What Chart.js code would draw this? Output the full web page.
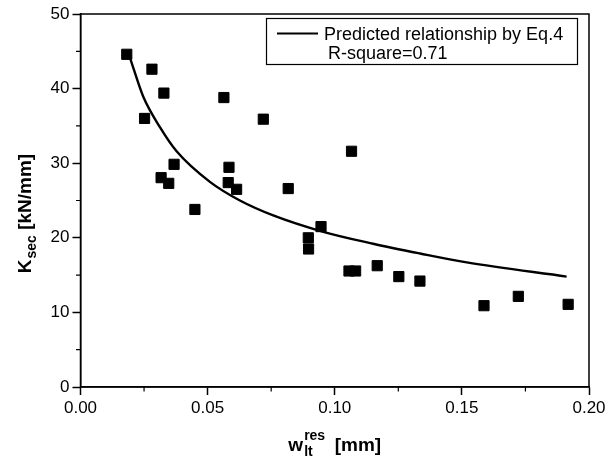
<!DOCTYPE html>
<html>
<head>
<meta charset="utf-8">
<script src="https://cdn.jsdelivr.net/npm/chart.js@4.4.1/dist/chart.umd.min.js"></script>
<style>
    html, body { margin: 0; padding: 0; background: #fff; }
    #wrap { width: 609px; height: 465px; }
</style>
</head>
<body>
<div id="wrap"><canvas id="myChart" width="609" height="465"></canvas></div>
<script>
// measured points (w_lt^res in mm, K_sec in kN/mm)
var measX = [0.0182, 0.0281, 0.0328, 0.0252, 0.0564, 0.0719, 0.1066, 0.0368, 0.0584, 0.0317, 0.0347, 0.0581, 0.0614,
    0.0817, 0.0450, 0.0946, 0.0896, 0.0897, 0.1056, 0.1082, 0.1167, 0.1252, 0.1335, 0.1587, 0.1722, 0.1918];
var measY = [44.6, 42.6, 39.4, 36.0, 38.8, 35.9, 31.6, 29.85, 29.45, 28.06, 27.3, 27.4, 26.5,
    26.6, 23.8, 21.5, 20.0, 18.5, 15.55, 15.55, 16.26, 14.8, 14.2, 10.9, 12.15, 11.08];

// predicted curve (Eq.4)
var curveX = [0.0195, 0.0247, 0.0313, 0.0378, 0.0509, 0.0627, 0.0758, 0.0955, 0.1151, 0.1335, 0.1519, 0.1912];
var curveY = [44.1, 38.9, 34.8, 31.6, 27.5, 25.0, 23.0, 20.8, 19.2, 17.9, 16.7, 14.8];

var xTicks = [0, 0.05, 0.10, 0.15, 0.20];
var yTicks = [0, 10, 20, 30, 40, 50];

var legendLines = ["Predicted relationship by Eq.4", "R-square=0.71"];

var FONT = "'Liberation Sans', Arial, sans-serif";

var toPoints = (xs, ys) => xs.map((x, i) => ({ x: x, y: ys[i] }));

// draws box, minor ticks, axis titles and legend
var extrasPlugin = {
    id: "extras",
    afterDraw: function(chart) {
        var ctx = chart.ctx;
        var a = chart.chartArea;
        var xs = chart.scales.x, ys = chart.scales.y;
        ctx.save();
        ctx.strokeStyle = "#000";
        ctx.lineWidth = 1.5;
        ctx.strokeRect(a.left, a.top, a.right - a.left, a.bottom - a.top);

        // minor ticks
        ctx.lineWidth = 1.2;
        ctx.beginPath();
        for (var i = 0; i < xTicks.length - 1; i++) {
            var px = xs.getPixelForValue((xTicks[i] + xTicks[i + 1]) / 2);
            ctx.moveTo(px, a.bottom);
            ctx.lineTo(px, a.bottom + 4.5);
        }
        for (var j = 0; j < yTicks.length - 1; j++) {
            var py = ys.getPixelForValue((yTicks[j] + yTicks[j + 1]) / 2);
            ctx.moveTo(a.left, py);
            ctx.lineTo(a.left - 4.5, py);
        }
        ctx.stroke();

        ctx.fillStyle = "#000";
        ctx.textBaseline = "alphabetic";
        ctx.textAlign = "left";

        // x title: w_lt^res [mm]
        var big = "bold 19px " + FONT, small = "bold 14px " + FONT;
        ctx.font = big;
        var wW = ctx.measureText("w").width;
        var tail = "  [mm]";
        var tailW = ctx.measureText(tail).width;
        ctx.font = small;
        var resW = Math.max(ctx.measureText("res").width, ctx.measureText("lt").width);
        var total = wW + resW + tailW;
        var x0 = (a.left + a.right) / 2 - total / 2;
        var base = 451;
        ctx.font = big;
        ctx.fillText("w", x0, base);
        ctx.fillText(tail, x0 + wW + resW, base);
        ctx.font = small;
        ctx.fillText("res", x0 + wW + 1, base - 11);
        ctx.fillText("lt", x0 + wW + 1, base + 5);

        // y title: K_sec [kN/mm]
        ctx.save();
        ctx.translate(31, 214);
        ctx.rotate(-Math.PI / 2);
        ctx.font = big;
        var kW = ctx.measureText("K").width;
        var yTail = " [kN/mm]";
        var yTailW = ctx.measureText(yTail).width;
        ctx.font = small;
        var secW = ctx.measureText("sec").width;
        var yTotal = kW + secW + yTailW;
        var y0 = -yTotal / 2;
        ctx.font = big;
        ctx.fillText("K", y0, 0);
        ctx.fillText(yTail, y0 + kW + secW + 1, 0);
        ctx.font = small;
        ctx.fillText("sec", y0 + kW + 1, 5);
        ctx.restore();

        // legend
        ctx.lineWidth = 1.2;
        ctx.strokeRect(266.5, 18.5, 311, 46);
        ctx.lineWidth = 2.2;
        ctx.beginPath();
        ctx.moveTo(277, 33.5);
        ctx.lineTo(318, 33.5);
        ctx.stroke();
        ctx.font = "18px " + FONT;
        ctx.fillText(legendLines[0], 324, 39.5);
        ctx.fillText(legendLines[1], 328, 59);
        ctx.restore();
    }
};

var data = {
    datasets: [
        {
            type: "line",
            label: legendLines[0],
            data: toPoints(curveX, curveY),
            borderColor: "#000",
            borderWidth: 2.4,
            pointRadius: 0,
            fill: false,
            cubicInterpolationMode: "monotone"
        },
        {
            type: "scatter",
            label: "Measured",
            data: toPoints(measX, measY),
            pointStyle: "rect",
            pointRadius: 7.2,
            borderWidth: 1,
            borderColor: "#000",
            backgroundColor: "#000"
        }
    ]
};

var config = {
    type: "scatter",
    data: data,
    options: {
        responsive: false,
        animation: false,
        layout: { padding: { top: 14, right: 20, left: 0, bottom: 0 } },
        plugins: {
            legend: { display: false },
            tooltip: { enabled: false }
        },
        scales: {
            x: {
                type: "linear",
                min: 0,
                max: 0.2,
                afterFit: (s) => { s.height = 78; },
                afterBuildTicks: (s) => { s.ticks = xTicks.map((v) => ({ value: v })); },
                ticks: {
                    color: "#000",
                    padding: 3,
                    font: { family: FONT, size: 17 },
                    callback: (v) => Number(v).toFixed(2)
                },
                grid: {
                    drawOnChartArea: false,
                    drawTicks: true,
                    tickLength: 8,
                    tickWidth: 1.5,
                    tickColor: "#000"
                },
                border: { display: true, color: "#000", width: 1.5 }
            },
            y: {
                type: "linear",
                min: 0,
                max: 50,
                afterFit: (s) => { s.width = 80.5; },
                afterBuildTicks: (s) => { s.ticks = yTicks.map((v) => ({ value: v })); },
                ticks: {
                    color: "#000",
                    padding: 3,
                    font: { family: FONT, size: 17 }
                },
                grid: {
                    drawOnChartArea: false,
                    drawTicks: true,
                    tickLength: 8,
                    tickWidth: 1.5,
                    tickColor: "#000"
                },
                border: { display: true, color: "#000", width: 1.5 }
            }
        }
    },
    plugins: [extrasPlugin]
};

var ctx = document.getElementById("myChart").getContext("2d");
var myChart = new Chart(ctx, config);
</script>
</body>
</html>
